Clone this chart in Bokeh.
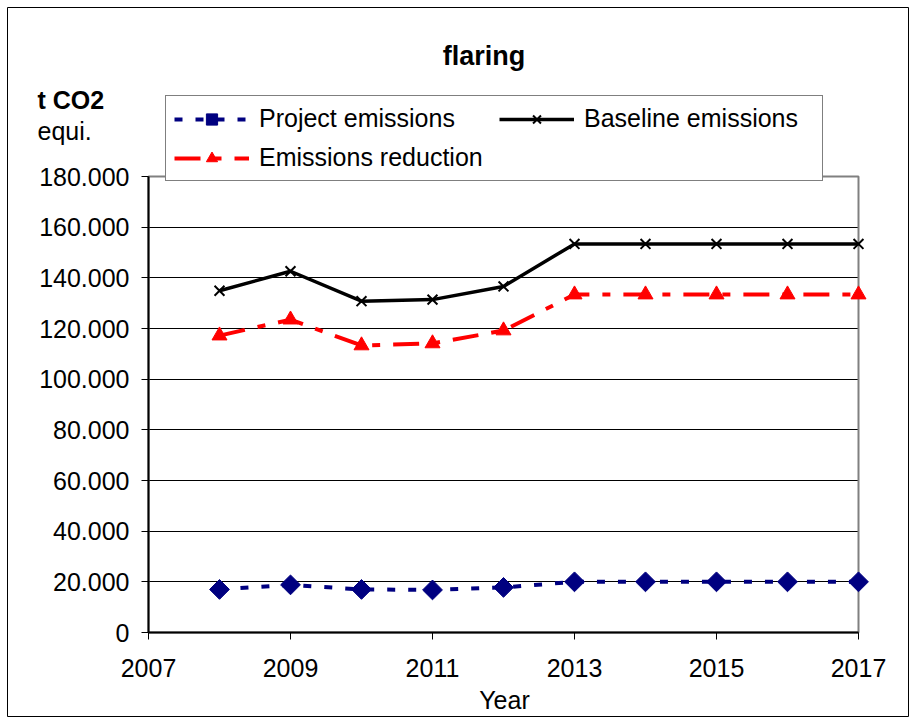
import math
from bokeh.plotting import figure
from bokeh.models import (Range1d, FixedTicker, Label, Legend, LegendItem, ColumnDataSource,
                          LinearAxis, Grid)
from bokeh.embed import file_html
from bokeh.resources import INLINE

years = [2008, 2009, 2010, 2011, 2012, 2013, 2014, 2015, 2016, 2017]
project_emissions = [17000, 18800, 17000, 16800, 17800, 20000, 20000, 20000, 20000, 20000]
baseline_emissions = [134900, 142600, 130800, 131400, 136600, 153400, 153400, 153400, 153400, 153400]
emissions_reduction = [117200, 123500, 113300, 114100, 119200, 133400, 133400, 133400, 133400, 133400]

x_ticks = [2007, 2009, 2011, 2013, 2015, 2017]
y_ticks = [0, 20000, 40000, 60000, 80000, 100000, 120000, 140000, 160000, 180000]
y_tick_labels = ["0", "20.000", "40.000", "60.000", "80.000", "100.000",
                 "120.000", "140.000", "160.000", "180.000"]

FONT = "Liberation Sans"

# page geometry (pixels): the frame fills the canvas from (7,7); the plot area sits inside it
W, H = 909, 717
FL, FT = 7, 7                     # frame left / top inside the canvas
PL, PR, PT, PB = 148, 858, 176, 632  # plot area edges
x0, x1 = x_ticks[0], x_ticks[-1]
y0, y1 = y_ticks[0], y_ticks[-1]
kx = (PR - PL) / (x1 - x0)
ky = (PB - PT) / (y1 - y0)
x_range = Range1d(x0 - (PL - FL) / kx, x1 + (W - PR) / kx)
y_range = Range1d(y0 - (H - PB) / ky, y1 + (PT - FT) / ky)

src = ColumnDataSource(dict(year=years, project=project_emissions,
                            baseline=baseline_emissions, reduction=emissions_reduction))

p = figure(width=W, height=H, output_backend="svg", toolbar_location=None,
           x_range=x_range, y_range=y_range,
           x_axis_location=None, y_axis_location=None,
           min_border_left=FL, min_border_top=FT, min_border_right=0, min_border_bottom=0)
p.title = None
p.background_fill_color = "white"
p.border_fill_color = "white"
p.outline_line_color = "black"
p.outline_line_width = 1
for g in p.grid:
    g.visible = False

# horizontal grid lines limited to the plot area
yg = Grid(dimension=1, ticker=FixedTicker(ticks=y_ticks[1:-1]), grid_line_color="black",
          grid_line_width=1)
try:
    yg.cross_bounds = (x0, x1)
    p.add_layout(yg)
except AttributeError:
    p.segment(x0=[x0] * len(y_ticks[1:-1]), x1=[x1] * len(y_ticks[1:-1]),
              y0=y_ticks[1:-1], y1=y_ticks[1:-1], line_color="black", line_width=1)

# plot area border (gray)
p.quad(left=[x0], right=[x1], bottom=[y0], top=[y1], fill_color=None,
       line_color="#808080", line_width=2)

xaxis = LinearAxis(fixed_location=y0, bounds=(x0, x1), ticker=FixedTicker(ticks=x_ticks))
yaxis = LinearAxis(fixed_location=x0, bounds=(y0, y1), ticker=FixedTicker(ticks=y_ticks))
yaxis.major_label_overrides = {t: l for t, l in zip(y_ticks, y_tick_labels)}
for ax in (xaxis, yaxis):
    ax.axis_line_color = "black"
    ax.axis_line_width = 2
    ax.major_tick_line_color = "black"
    ax.major_tick_line_width = 1
    ax.major_tick_out = 7
    ax.major_tick_in = 0
    ax.minor_tick_line_color = None
    ax.major_label_text_font = FONT
    ax.major_label_text_font_size = "25px"
    ax.major_label_text_color = "black"
xaxis.major_label_standoff = 19
yaxis.major_label_standoff = 12
p.add_layout(xaxis, "below")
p.add_layout(yaxis, "left")

# series
l_proj = p.line("year", "project", source=src, line_color="#000080", line_width=4, line_dash="8 13")
m_proj = p.scatter("year", "project", source=src, marker="square", angle=math.pi / 4, size=14,
                   fill_color="#000080", line_color="#000080")
l_base = p.line("year", "baseline", source=src, line_color="black", line_width=3.5)
m_base = p.scatter("year", "baseline", source=src, marker="x", size=14,
                   line_color="black", line_width=2)
l_red = p.line("year", "reduction", source=src, line_color="red", line_width=4, line_dash="26 13 8 13")
m_red = p.scatter("year", "reduction", source=src, marker="triangle", size=15,
                  fill_color="red", line_color="red")

legend = Legend(items=[
    LegendItem(label="Project emissions", renderers=[l_proj, m_proj]),
    LegendItem(label="Baseline emissions", renderers=[l_base, m_base]),
    LegendItem(label="Emissions reduction", renderers=[l_red, m_red]),
], location=(165 - FL, H - 181), orientation="horizontal", ncols=2)
legend.label_text_font = FONT
legend.label_text_font_size = "25px"
legend.label_text_color = "black"
legend.padding = 8
legend.spacing = 10
legend.margin = 0
legend.glyph_width = 75
legend.glyph_height = 28
legend.label_height = 28
legend.label_width = 230
legend.label_standoff = 10
legend.border_line_color = "black"
legend.border_line_width = 1.5
legend.background_fill_color = "white"
legend.background_fill_alpha = 1
p.add_layout(legend, "center")


def sx(px):
    return px - FL


def sy(py):
    return H - py


p.add_layout(Label(x=sx(483.5), y=sy(55), x_units="screen", y_units="screen", text="flaring",
                   text_font=FONT, text_font_size="27px", text_font_style="bold",
                   text_align="center", text_baseline="alphabetic", text_color="black"))
p.add_layout(Label(x=sx(37), y=sy(99), x_units="screen", y_units="screen", text="t CO2",
                   text_font=FONT, text_font_size="25px", text_font_style="bold",
                   text_align="left", text_baseline="alphabetic", text_color="black"))
p.add_layout(Label(x=sx(37), y=sy(130), x_units="screen", y_units="screen", text="equi.",
                   text_font=FONT, text_font_size="25px",
                   text_align="left", text_baseline="alphabetic", text_color="black"))
p.add_layout(Label(x=sx(504), y=sy(699), x_units="screen", y_units="screen", text="Year",
                   text_font=FONT, text_font_size="25px",
                   text_align="center", text_baseline="alphabetic", text_color="black"))

open("out.html", "w").write(file_html(p, INLINE))
